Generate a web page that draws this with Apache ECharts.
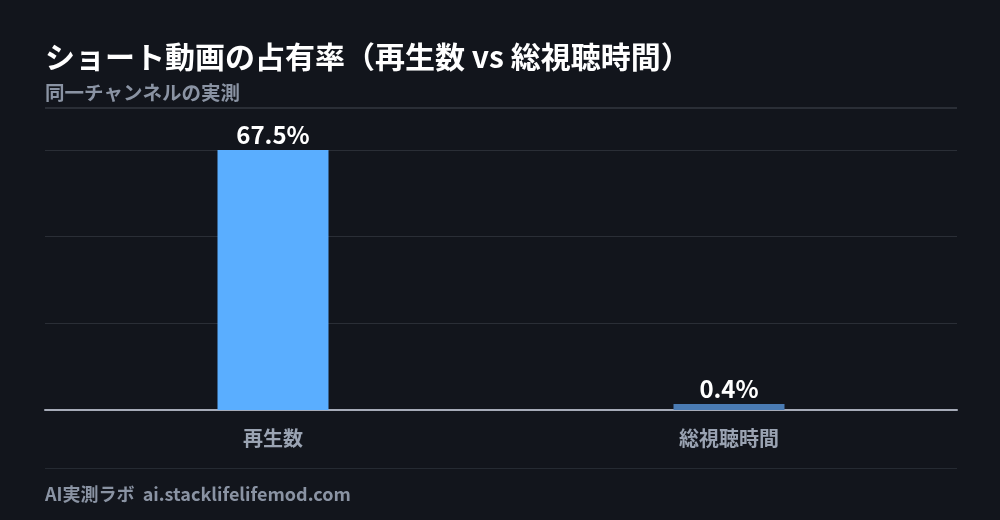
<!DOCTYPE html>
<html><head><meta charset="utf-8">
<script src="https://cdn.jsdelivr.net/npm/echarts@6/dist/echarts.min.js"></script>
<style>html,body{margin:0;padding:0;background:#12151c;}#c{width:1000px;height:520px;}</style>
</head><body><div id="c"></div>
<script>
const categories = ['再生数', '総視聴時間'];
const values = [67.5, 0.4];
const barColors = ['#5aaeff', '#4a7bb3'];
const titleText = 'ショート動画の占有率（再生数 vs 総視聴時間）';
const subtitleText = '同一チャンネルの実測';
const footerText = 'AI実測ラボ  ai.stacklifelifemod.com';

const font = '"Noto Sans CJK JP", "Noto Sans", sans-serif';
const chart = echarts.init(document.getElementById('c'));
chart.setOption({
  backgroundColor: '#12151c',
  animation: false,
  title: [
    { text: titleText, left: 40, top: 37, textStyle: { color: '#ffffff', fontSize: 30, fontWeight: 'bold', fontFamily: font } },
    { text: subtitleText, left: 40, top: 78, textStyle: { color: '#8a93a3', fontSize: 19.5, fontWeight: 'bold', fontFamily: font } },
    { text: footerText, left: 40, top: 480, textStyle: { color: '#8a93a3', fontSize: 18, fontWeight: 'bold', fontFamily: font } }
  ],
  graphic: [
    { type: 'rect', shape: { x: 45, y: 107, width: 912, height: 2 }, style: { fill: '#2a2e36' } },
    { type: 'rect', shape: { x: 45, y: 468, width: 912, height: 1 }, style: { fill: '#252a32' } }
  ],
  grid: { left: 45, right: 43, top: 150, bottom: 110, containLabel: false },
  xAxis: {
    type: 'category',
    data: categories,
    axisLine: { lineStyle: { color: '#a6abb8', width: 2 } },
    axisTick: { show: false },
    axisLabel: { color: '#9aa3b2', fontSize: 20, fontWeight: 'bold', fontFamily: font, margin: 18 }
  },
  yAxis: {
    type: 'value',
    min: 0, max: 67.5, interval: 22.5,
    axisLabel: { show: false },
    axisLine: { show: false },
    axisTick: { show: false },
    splitLine: { lineStyle: { color: '#2a2e36', width: 1 } }
  },
  series: [{
    type: 'bar',
    data: values.map((v, i) => ({ value: v, itemStyle: { color: barColors[i] } })),
    barWidth: 111,
    barMinHeight: 6,
    label: {
      show: true, position: 'top', distance: 3,
      formatter: p => p.value + '%',
      color: '#ffffff', fontSize: 24, fontWeight: 'bold', fontFamily: font
    }
  }]
});
</script></body></html>
